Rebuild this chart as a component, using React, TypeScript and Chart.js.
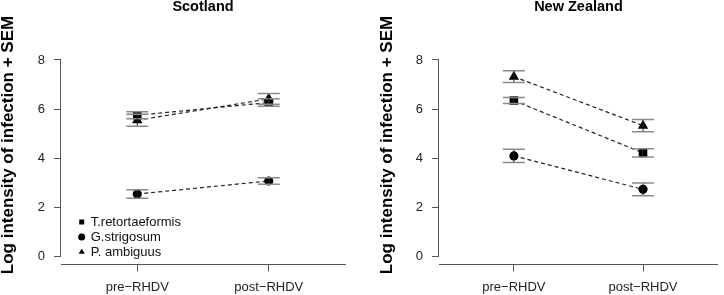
import React, { useEffect, useRef } from "react";
import { Chart, registerables } from "chart.js";

Chart.register(...registerables);

// ---------- data ----------
const xValues = [1, 2];
const xTickLabels = ["pre\u2212RHDV", "post\u2212RHDV"];
const yTickValues = [0, 2, 4, 6, 8];
const seriesNames = ["T.retortaeformis", "G.strigosum", "P. ambiguus"];
const seriesPointStyles = ["rect", "circle", "triangle"];
const seriesPointRadii = [6.1, 4.6, 6];

const scotlandTretMean = [5.75, 6.27];
const scotlandTretSem = [0.14, 0.15];
const scotlandGstrMean = [2.55, 3.08];
const scotlandGstrSem = [0.17, 0.135];
const scotlandPambMean = [5.55, 6.42];
const scotlandPambSem = [0.24, 0.22];

const nzTretMean = [6.35, 4.22];
const nzTretSem = [0.12, 0.17];
const nzGstrMean = [4.1, 2.74];
const nzGstrSem = [0.27, 0.26];
const nzPambMean = [7.32, 5.33];
const nzPambSem = [0.24, 0.25];

const FONT = "'Liberation Sans', Arial, Helvetica, sans-serif";
const AXIS_COLOR = "#555";

type PanelProps = {
  title: string;
  means: number[][];
  sems: number[][];
  showLegend: boolean;
  yAxisWidth: number;
  yTitlePad: number;
  rightPad: number;
};

function Panel(props: PanelProps) {
  const ref = useRef<HTMLCanvasElement | null>(null);

  useEffect(() => {
    const canvas = ref.current;
    if (!canvas) return;
    const { title, means, sems, showLegend, yAxisWidth, yTitlePad, rightPad } = props;

    const datasets = means.map((m, i) => ({
      label: seriesNames[i],
      data: xValues.map((x, j) => ({ x, y: m[j] })),
      borderColor: "#222",
      borderWidth: 1.2,
      borderDash: [4, 3],
      pointStyle: seriesPointStyles[i],
      pointRadius: seriesPointRadii[i],
      pointBackgroundColor: "#000",
      pointBorderColor: "#000",
      pointBorderWidth: 0,
      fill: false,
      tension: 0,
    }));

    const errorBarPlugin = {
      id: "errorBars",
      afterDatasetsDraw(chart: any) {
        const ctx = chart.ctx;
        const xs = chart.scales.x;
        const ys = chart.scales.y;
        ctx.save();
        means.forEach((m, i) => {
          m.forEach((v, j) => {
            const px = xs.getPixelForValue(xValues[j]);
            const top = ys.getPixelForValue(v + sems[i][j]);
            const bot = ys.getPixelForValue(v - sems[i][j]);
            ctx.strokeStyle = "#222";
            ctx.lineWidth = 1;
            ctx.setLineDash([]);
            ctx.beginPath();
            ctx.moveTo(px, top);
            ctx.lineTo(px, bot);
            ctx.stroke();
            ctx.strokeStyle = "#8a8a8a";
            ctx.lineWidth = 1.5;
            ctx.beginPath();
            ctx.moveTo(px - 11, top);
            ctx.lineTo(px + 11, top);
            ctx.moveTo(px - 11, bot);
            ctx.lineTo(px + 11, bot);
            ctx.stroke();
          });
        });
        ctx.restore();
      },
    };

    const yAxisLinePlugin = {
      id: "yAxisLine",
      afterLayout(chart: any) {
        // move the y-axis title box so the rotated title is centred like the reference
        const ys = chart.scales.y;
        ys.top -= 13.35;
        ys.bottom -= 13.35;
      },
      beforeDatasetsDraw(chart: any) {
        const ctx = chart.ctx;
        const ys = chart.scales.y;
        const x = Math.round(chart.chartArea.left) - 0.5;
        ctx.save();
        ctx.strokeStyle = AXIS_COLOR;
        ctx.lineWidth = 1;
        ctx.beginPath();
        ctx.moveTo(x, ys.getPixelForValue(yTickValues[0]));
        ctx.lineTo(x, ys.getPixelForValue(yTickValues[yTickValues.length - 1]));
        ctx.stroke();
        ctx.restore();
      },
    };

    const legendPlacePlugin = {
      id: "legendPlace",
      beforeDraw(chart: any) {
        const lg = chart.legend;
        if (!lg || !showLegend) return;
        lg.left = 77.2;
        lg.right = 77.2 + 160;
        lg.top = 213.5;
        lg.bottom = 295;
        lg.width = 160;
        lg.height = 295 - 213.5;
      },
    };

    const chart = new Chart(canvas, {
      type: "line",
      data: { datasets },
      plugins: [errorBarPlugin, yAxisLinePlugin, legendPlacePlugin],
      options: {
        animation: false,
        responsive: false,
        events: [],
        layout: { padding: { left: 0, right: rightPad, top: 0, bottom: 0 } },
        plugins: {
          tooltip: { enabled: false },
          title: {
            display: true,
            text: title,
            fullSize: false,
            color: "#000",
            font: { family: FONT, size: 14.5, weight: "bold", lineHeight: 1 },
            padding: { top: 0, bottom: 52.1 - 14.5 },
          },
          legend: {
            display: showLegend,
            position: "chartArea",
            align: "start",
            labels: {
              usePointStyle: true,
              boxWidth: 5,
              boxHeight: 5,
              padding: 2,
              color: "#111",
              font: { family: FONT, size: 13 },
            },
          },
        },
        scales: {
          x: {
            type: "linear",
            min: 0.42,
            max: 2.58,
            offset: false,
            afterBuildTicks: (s: any) => {
              s.ticks = xValues.map((v) => ({ value: v }));
            },
            afterFit: (s: any) => {
              s.height = 30.4;
            },
            ticks: {
              autoSkip: false,
              maxRotation: 0,
              padding: 8,
              color: "#222",
              font: { family: FONT, size: 13 },
              callback: (v: any) => {
                const k = xValues.indexOf(Number(v));
                return k >= 0 ? xTickLabels[k] : "";
              },
            },
            grid: {
              display: true,
              drawOnChartArea: false,
              drawTicks: true,
              tickLength: 7,
              color: AXIS_COLOR,
              lineWidth: 1,
            },
            border: { display: true, color: AXIS_COLOR, width: 1 },
          },
          y: {
            type: "linear",
            min: -0.32,
            max: 8.32,
            afterBuildTicks: (s: any) => {
              s.ticks = yTickValues.map((v) => ({ value: v }));
            },
            afterFit: (s: any) => {
              s.width = yAxisWidth;
            },
            ticks: {
              padding: 9,
              color: "#222",
              font: { family: FONT, size: 13 },
              callback: (v: any) => String(v),
            },
            grid: {
              display: true,
              drawOnChartArea: false,
              drawTicks: true,
              tickLength: 7,
              color: AXIS_COLOR,
              lineWidth: 1,
            },
            border: { display: false },
            title: {
              display: true,
              text: "Log intensity of infection + SEM",
              color: "#000",
              font: { family: FONT, size: 17, weight: "bold", lineHeight: 1 },
              padding: { top: yTitlePad, bottom: 0 },
            },
          },
        },
      } as any,
    } as any);

    return () => {
      chart.destroy();
    };
  }, []);

  return (
    <div style={{ width: 362, height: 295, position: "relative" }}>
      <canvas ref={ref} width={362} height={295} style={{ display: "block", width: 362, height: 295 }} />
    </div>
  );
}

export default function App() {
  return (
    <div
      style={{
        position: "absolute",
        left: 0,
        top: 0,
        width: 724,
        height: 295,
        display: "flex",
        background: "#fff",
      }}
    >
      <Panel
        title="Scotland"
        means={[scotlandTretMean, scotlandGstrMean, scotlandPambMean]}
        sems={[scotlandTretSem, scotlandGstrSem, scotlandPambSem]}
        showLegend={true}
        yAxisWidth={61}
        yTitlePad={0}
        rightPad={17}
      />
      <Panel
        title="New Zealand"
        means={[nzTretMean, nzGstrMean, nzPambMean]}
        sems={[nzTretSem, nzGstrSem, nzPambSem]}
        showLegend={false}
        yAxisWidth={77}
        yTitlePad={16.5}
        rightPad={0}
      />
    </div>
  );
}
